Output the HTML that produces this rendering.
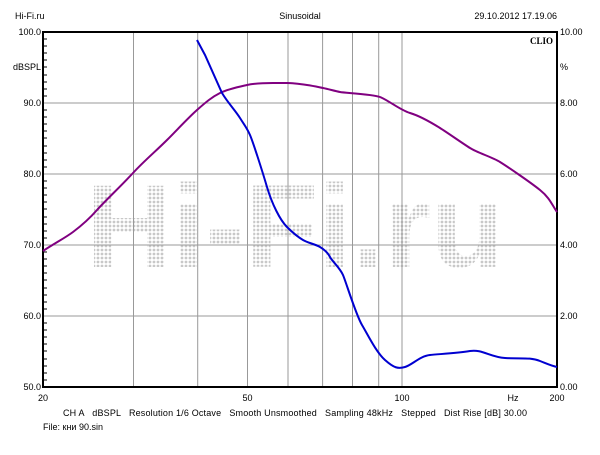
<!DOCTYPE html>
<html><head><meta charset="utf-8"><style>
body{margin:0;background:#fff;width:600px;height:450px;overflow:hidden}
svg{font-family:"Liberation Sans",sans-serif;font-size:9px}
text{white-space:pre}
</style></head><body>
<svg width="600" height="450" viewBox="0 0 600 450">
<defs>
<pattern id="dots" width="4" height="4" patternUnits="userSpaceOnUse"><circle cx="2" cy="2" r="1.4" fill="#c8c8c8"/></pattern>
</defs>
<rect width="600" height="450" fill="#fff"/>
<text x="86" y="267" font-size="118" font-weight="bold" fill="url(#dots)" textLength="418" lengthAdjust="spacingAndGlyphs">Hi-Fi.ru</text>
<g stroke="#999" stroke-width="1">
<line x1="133.5" y1="32" x2="133.5" y2="387"/><line x1="197.7" y1="32" x2="197.7" y2="387"/>
<line x1="247.5" y1="32" x2="247.5" y2="387"/><line x1="288" y1="32" x2="288" y2="387"/>
<line x1="322.6" y1="32" x2="322.6" y2="387"/><line x1="352.5" y1="32" x2="352.5" y2="387"/>
<line x1="378.7" y1="32" x2="378.7" y2="387"/><line x1="402" y1="32" x2="402" y2="387"/>
<line x1="43" y1="103" x2="557" y2="103"/><line x1="43" y1="174" x2="557" y2="174"/>
<line x1="43" y1="245" x2="557" y2="245"/><line x1="43" y1="316" x2="557" y2="316"/>
</g>
<path d="M44,39h3M44,46h3M44,53h3M44,60h3M44,67h3M44,75h3M44,82h3M44,89h3M44,96h3M44,110h3M44,117h3M44,124h3M44,131h3M44,138h3M44,146h3M44,153h3M44,160h3M44,167h3M44,181h3M44,188h3M44,195h3M44,202h3M44,209h3M44,217h3M44,224h3M44,231h3M44,238h3M44,252h3M44,259h3M44,266h3M44,273h3M44,280h3M44,288h3M44,295h3M44,302h3M44,309h3M44,323h3M44,330h3M44,337h3M44,344h3M44,351h3M44,359h3M44,366h3M44,373h3M44,380h3" stroke="#000" stroke-width="1"/>
<rect x="43" y="32" width="514" height="355" fill="none" stroke="#000" stroke-width="2"/>
<path d="M43,251 C55,243 65,238 73,232 S90,218 97,210 S122,185 133,173 S156,151 167,140 S188,118 197,110 S212,97 220,93 S238,87 247,85 S265,83 273,83 S282,83 287,83 S300,84 307,85 S318,87 323,88 S335,91 340,92 S372,94 380,97 S400,110 410,113 S432,123 440,128 S462,143 470,148 S492,157 500,162 S530,182 540,190 S552,205 557,212" fill="none" stroke="#800080" stroke-width="2"/>
<path d="M197,40 L205,55 L222,93 C228,103 235,110 240,118 S247,128 250,135 S262,170 267,187 S280,220 287,227 S298,237 303,240 S315,244 320,247 S328,253 330,257 S340,268 343,275 S356,315 362,325 S376,352 385,360 S398,369 405,367 S420,356 430,355 S458,353 470,351 S490,357 505,358 S530,357 540,361 S552,366 557,367" fill="none" stroke="#0000d0" stroke-width="2"/>
<g fill="#000">
<text x="15" y="19">Hi-Fi.ru</text>
<text x="300" y="19" text-anchor="middle">Sinusoidal</text>
<text x="557" y="19" text-anchor="end">29.10.2012 17.19.06</text>
<text x="553" y="44" text-anchor="end" font-weight="bold" font-family="Liberation Serif">CLIO</text>
<text x="41" y="35" text-anchor="end">100.0</text>
<text x="41" y="70" text-anchor="end">dBSPL</text>
<text x="41" y="106" text-anchor="end">90.0</text>
<text x="41" y="177" text-anchor="end">80.0</text>
<text x="41" y="248" text-anchor="end">70.0</text>
<text x="41" y="319" text-anchor="end">60.0</text>
<text x="41" y="390" text-anchor="end">50.0</text>
<text x="560" y="35">10.00</text>
<text x="560" y="70">%</text>
<text x="560" y="106">8.00</text>
<text x="560" y="177">6.00</text>
<text x="560" y="248">4.00</text>
<text x="560" y="319">2.00</text>
<text x="560" y="390">0.00</text>
<text x="43" y="401" text-anchor="middle">20</text>
<text x="247.5" y="401" text-anchor="middle">50</text>
<text x="402" y="401" text-anchor="middle">100</text>
<text x="513" y="401" text-anchor="middle">Hz</text>
<text x="557" y="401" text-anchor="middle">200</text>
<text x="63" y="416" textLength="464" lengthAdjust="spacing">CH A   dBSPL   Resolution 1/6 Octave   Smooth Unsmoothed   Sampling 48kHz   Stepped   Dist Rise [dB] 30.00</text>
<text x="43" y="430">File: кни 90.sin</text>
</g>
</svg>
</body></html>
